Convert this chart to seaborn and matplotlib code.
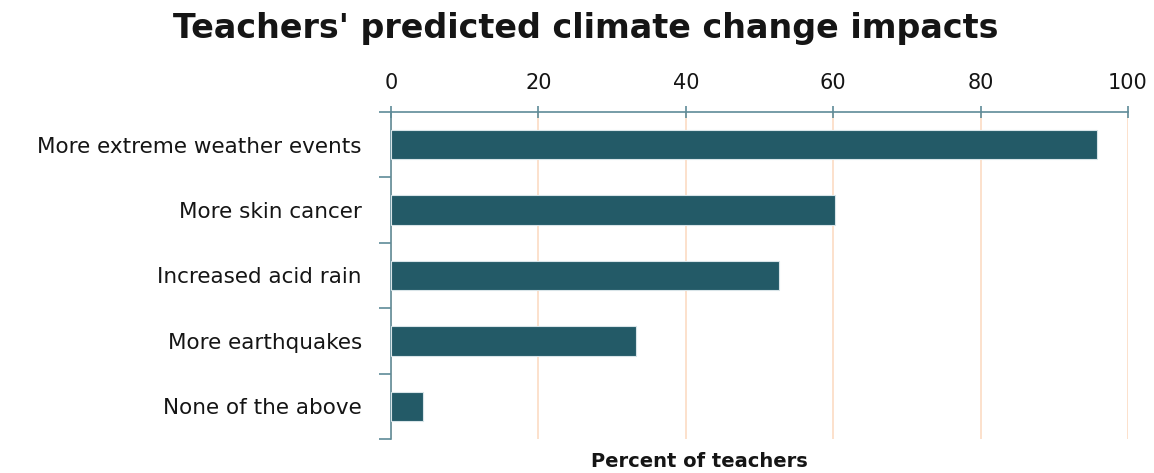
import matplotlib
matplotlib.use("Agg")
import matplotlib.pyplot as plt
import seaborn as sns
import pandas as pd

# Survey responses: share of teachers predicting each impact
impacts = [
    "More extreme weather events",
    "More skin cancer",
    "Increased acid rain",
    "More earthquakes",
    "None of the above",
]
percent = [95.8, 60.2, 52.6, 33.2, 4.3]
x_ticks = [0, 20, 40, 60, 80, 100]

df = pd.DataFrame({"impact": impacts, "percent": percent})

sns.set_theme(style="white")
plt.rcParams["font.family"] = ["DejaVu Sans"]

bar_color = "#235a67"
axis_color = "#5f8b98"
grid_color = "#fcdcc4"
text_color = "#151515"

fig = plt.figure(figsize=(11.54, 4.73), dpi=100)
ax = fig.add_axes([0.3388, 0.0719, 0.9775 - 0.3388, 0.7632 - 0.0719])

sns.barplot(data=df, x="percent", y="impact", color=bar_color, width=0.45,
            saturation=1, ax=ax, zorder=3)
for p in ax.patches:
    p.set_edgecolor("#d8e4e8")
    p.set_linewidth(0.8)

ax.set_xlim(0, 100)
ax.set_ylim(len(impacts) - 0.5, -0.5)
ax.set_xticks(x_ticks)
ax.xaxis.tick_top()
ax.tick_params(axis="x", which="major", top=True, bottom=False,
               direction="inout", length=8, width=1.2, color=axis_color,
               labelsize=15, pad=10, labelcolor=text_color)
ax.grid(axis="x", color=grid_color, linewidth=1.2, zorder=0)
ax.grid(axis="y", visible=False)

# category labels at band centres, tick marks at band boundaries
ax.set_yticks(range(len(impacts)))
ax.set_yticklabels(impacts)
ax.tick_params(axis="y", which="major", left=False, length=0,
               labelsize=15.5, pad=21, labelcolor=text_color)
ax.set_yticks([i - 0.5 for i in range(len(impacts) + 1)], minor=True)
ax.tick_params(axis="y", which="minor", left=True, direction="out",
               length=9, width=1.2, color=axis_color)

ax.set_xlabel("")
ax.set_ylabel("")
for side in ["right", "bottom"]:
    ax.spines[side].set_visible(False)
for side in ["top", "left"]:
    ax.spines[side].set_color(axis_color)
    ax.spines[side].set_linewidth(1.2)

fig.text(0.508, 0.94, "Teachers' predicted climate change impacts",
         ha="center", va="center", fontsize=24, fontweight="bold",
         color=text_color)
fig.text(0.606, 0.024, "Percent of teachers", ha="center", va="center",
         fontsize=14, fontweight="bold", color=text_color)

fig.savefig("out.png", dpi=100)
